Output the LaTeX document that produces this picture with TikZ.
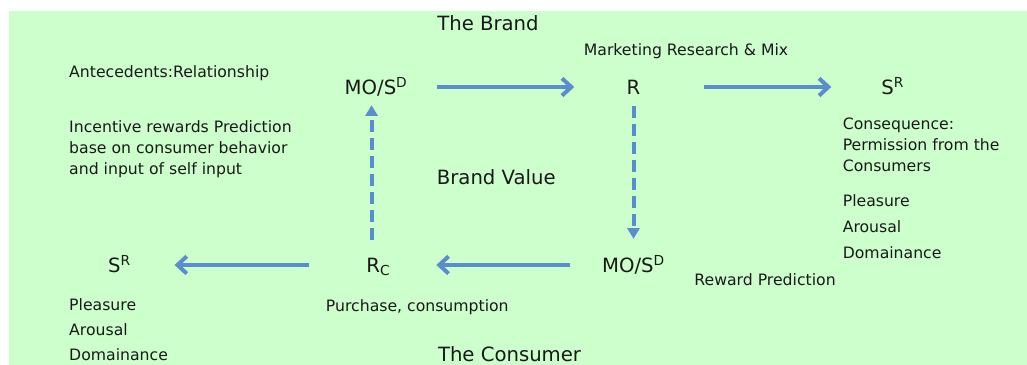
\documentclass[tikz,border=0pt]{standalone}
\usepackage{fontspec}
\setmainfont{DejaVu Sans}
\usetikzlibrary{arrows.meta}
\definecolor{bggreen}{RGB}{204,255,204}
\definecolor{arrblue}{RGB}{90,141,206}
\definecolor{txtgray}{RGB}{25,25,25}

\begin{document}
\begin{tikzpicture} [scale = 1,
  big/.style = {font = \fontsize{14.8}{18}\selectfont, text = txtgray},
  small/.style = {font = \fontsize{11.8}{16}\selectfont, text = txtgray},
  stage/.style = {big, inner sep = 2pt, text height = 11pt, text depth = 0pt},
  flow/.style = {arrblue, line width = 3pt, -{Straight Barb[length = 7pt, width = 13pt]}},
  dflow/.style = {arrblue, line width = 3pt, dash pattern = on 9pt off 4.5pt, -{Triangle[length = 8pt, width = 9pt]}}]
\useasboundingbox (0, 0) rectangle (27.17, 9.656);
\fill[bggreen] (0.24, 0) rectangle (27.17, 9.365);
\node[big, anchor = base] (brand) at (12.91, 8.836){The Brand};
\node[small, anchor = base] (mix) at (18.15, 8.175){Marketing Research \& Mix};
\node[small, anchor = base west, inner sep = 0] (ante) at (1.825, 7.593){Antecedents:Relationship};
\node[small, anchor = north west, align = left, inner sep = 0] (incent) at (1.825, 6.481){Incentive rewards Prediction\\base on consumer behavior\\and input of self input};
\node[stage] (mos) at (9.95, 7.354){MO/S\textsuperscript{D}};
\node[stage] (r) at (16.76, 7.354){R};
\node[stage] (srtop) at (23.62, 7.354){S\textsuperscript{R}};
\node[small, anchor = north west, align = left, inner sep = 0] (conseq) at (22.29, 6.553){Consequence:\\Permission from the\\Consumers};
\node[small, anchor = north west, align = left, inner sep = 0, font = \fontsize{11.8}{19.4}\selectfont] (padright) at (22.29, 4.505){Pleasure\\Arousal\\Domainance};
\node[big, anchor = base] (value) at (13.13, 4.788){Brand Value};
\node[stage] (srbot) at (3.16, 2.646){S\textsuperscript{R}};
\node[stage] (rc) at (10.01, 2.646){R\textsubscript{C}};
\node[stage] (mosbot) at (16.76, 2.646){MO/S\textsuperscript{D}};
\node[small, anchor = base] (reward) at (20.24, 2.09){Reward Prediction};
\node[small, anchor = base] (purchase) at (11.04, 1.41){Purchase, consumption};
\node[small, anchor = north west, align = left, inner sep = 0, font = \fontsize{11.8}{19}\selectfont] (padleft) at (1.825, 1.772){Pleasure\\Arousal\\Domainance};
\node[big, anchor = base] (consumer) at (13.48, 0.087){The Consumer};
\draw[flow, shorten < = 0.69cm, shorten > = 1.31cm] (mos) -- (r);
\draw[flow, shorten < = 1.6cm, shorten > = 1.25cm] (r) -- (srtop);
\draw[dflow, shorten < = 0.24cm, shorten > = 0.42cm] (r) -- (mosbot);
\draw[flow, shorten < = 0.77cm, shorten > = 1.14cm] (mosbot) -- (rc);
\draw[flow, shorten < = 1.43cm, shorten > = 1.08cm] (rc) -- (srbot);
\draw[dflow, shorten < = 0.4cm, shorten > = 0.21cm] ([xshift = -0.18cm]rc.north) -- ([xshift = -0.12cm]mos.south);
\end{tikzpicture}
\end{document}
